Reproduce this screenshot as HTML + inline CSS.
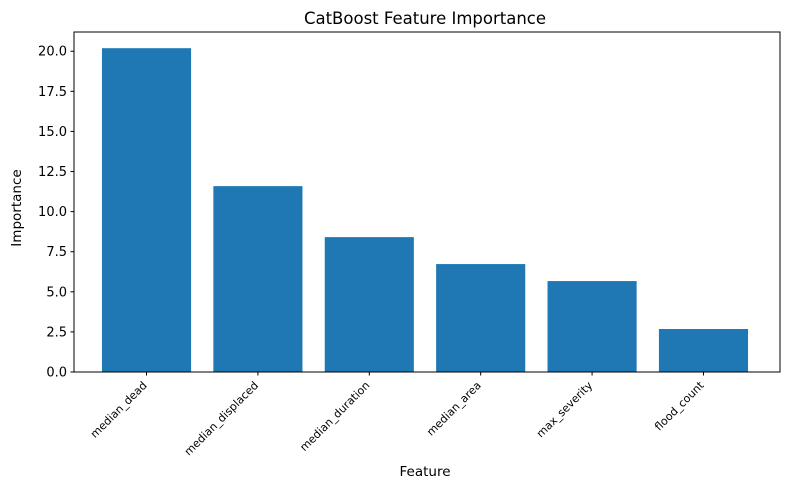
<!DOCTYPE html>
<html><head><meta charset="utf-8"><style>
body{margin:0;background:#fff;font-family:"Liberation Sans","DejaVu Sans",sans-serif;}
svg text{font-family:"DejaVu Sans","Liberation Sans",sans-serif;}
</style></head><body>
<svg id="chart" width="790" height="490" viewBox="0 0 790 490" xmlns="http://www.w3.org/2000/svg">
<rect width="790" height="490" fill="#fff"/>
<text x="425" y="24" text-anchor="middle" font-size="16.5">CatBoost Feature Importance</text>
<g id="plot"></g>
<rect x="74" y="32" width="706" height="340" fill="none" stroke="#000" stroke-width="1"/>
<text x="425" y="476" text-anchor="middle" font-size="13.5">Feature</text>
<text transform="translate(21,208) rotate(-90)" text-anchor="middle" font-size="13.5">Importance</text>
</svg>
<script>
const categories=["median_dead","median_displaced","median_duration","median_area","max_severity","flood_count"];
const importance=[20.19,11.59,8.41,6.73,5.67,2.68];
const yTicks=[0,2.5,5,7.5,10,12.5,15,17.5,20];
const yTickLabels=["0.0","2.5","5.0","7.5","10.0","12.5","15.0","17.5","20.0"];
const L=74,R=780,T=32,B=372;
const xmin=-0.651,xmax=5.687;
const ymax=21.2;
function xs(i){return L+(i-xmin)/(xmax-xmin)*(R-L);}
function ys(v){return B-v/ymax*(B-T);}
const g=document.getElementById('plot');
const NS="http://www.w3.org/2000/svg";
function mk(t,a){const e=document.createElementNS(NS,t);for(const k in a)e.setAttribute(k,a[k]);return e;}
const bw=0.8*(R-L)/(xmax-xmin);
categories.forEach((c,i)=>{
  const r=mk('rect',{x:xs(i)-bw/2,y:ys(importance[i]),width:bw,height:B-ys(importance[i]),fill:'#1f77b4'});
  
  
  g.appendChild(r);
  const tk=mk('line',{x1:xs(i),x2:xs(i),y1:B,y2:B+3.5,stroke:'#000'});
  
  
  g.appendChild(tk);
  const t=mk('text',{transform:`translate(${xs(i)+1},${B+14}) rotate(-45)`,'text-anchor':'end','font-size':'11'});
  t.textContent=c;
  
  
  g.appendChild(t);
});
yTicks.forEach((v,i)=>{
  const tk=mk('line',{x1:L-3.5,x2:L,y1:ys(v),y2:ys(v),stroke:'#000'});
  
  
  g.appendChild(tk);
  const t=mk('text',{x:L-7,y:ys(v)+4.5,'text-anchor':'end','font-size':'13'});
  t.textContent=yTickLabels[i];
  
  
  g.appendChild(t);
});
</script>
</body></html>
